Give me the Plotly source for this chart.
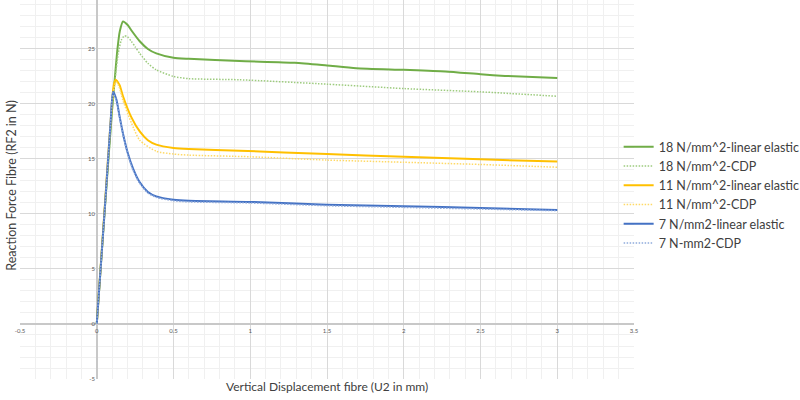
import plotly.graph_objects as go

# Tick labels
x_ticks = [-0.5, 0, 0.5, 1, 1.5, 2, 2.5, 3, 3.5]
x_tick_text = ["-0.5", "0", "0.5", "1", "1.5", "2", "2.5", "3", "3.5"]
y_ticks = [-5, 0, 5, 10, 15, 20, 25]
y_tick_text = ["-5", "0", "5", "10", "15", "20", "25"]

# 18 N/mm^2 - linear elastic
x_18_le = [0, 0.05, 0.10, 0.117, 0.135, 0.15, 0.171, 0.20, 0.225, 0.28, 0.333, 0.388, 0.5, 0.6, 0.93, 1.29, 1.5, 1.69, 2.0, 2.27, 2.5, 2.66, 3.0]
y_18_le = [0, 10.0, 19.5, 22.2, 25.0, 26.6, 27.5, 27.2, 26.7, 25.7, 25.0, 24.6, 24.2, 24.1, 23.9, 23.75, 23.5, 23.25, 23.1, 22.95, 22.7, 22.55, 22.35]

# 18 N/mm^2 - CDP
x_18_cdp = [0, 0.05, 0.10, 0.12, 0.14, 0.16, 0.18, 0.20, 0.225, 0.25, 0.28, 0.333, 0.388, 0.5, 0.6, 0.93, 1.5, 2.0, 2.5, 3.0]
y_18_cdp = [0, 9.8, 19.3, 22.3, 24.6, 25.8, 26.2, 26.1, 25.7, 25.2, 24.6, 23.7, 23.1, 22.5, 22.3, 22.2, 21.8, 21.4, 21.1, 20.7]

# 11 N/mm^2 - linear elastic
x_11_le = [0, 0.05, 0.10, 0.112, 0.123, 0.149, 0.171, 0.225, 0.28, 0.333, 0.388, 0.5, 0.6, 0.93, 1.5, 2.0, 2.5, 3.0]
y_11_le = [0, 10.2, 20.3, 21.8, 22.2, 21.7, 20.7, 18.8, 17.5, 16.7, 16.3, 16.0, 15.9, 15.75, 15.45, 15.2, 14.97, 14.76]

# 11 N/mm^2 - CDP
x_11_cdp = [0, 0.05, 0.10, 0.115, 0.128, 0.145, 0.171, 0.225, 0.28, 0.388, 0.5, 0.6, 1.0, 1.5, 2.0, 2.5, 3.0]
y_11_cdp = [0, 10.1, 20.1, 21.6, 22.0, 21.6, 20.3, 18.3, 16.7, 15.7, 15.45, 15.35, 15.2, 14.9, 14.7, 14.5, 14.25]

# 7 N/mm2 - linear elastic
x_7_le = [0, 0.05, 0.09, 0.106, 0.128, 0.149, 0.171, 0.203, 0.236, 0.279, 0.333, 0.388, 0.5, 0.6, 1.0, 1.5, 2.0, 2.5, 3.0]
y_7_le = [0, 10.0, 18.3, 21.1, 20.4, 18.85, 17.3, 15.5, 14.15, 12.9, 12.0, 11.6, 11.3, 11.2, 11.1, 10.85, 10.7, 10.55, 10.36]

# 7 N-mm2 - CDP
x_7_cdp = [0, 0.05, 0.09, 0.105, 0.128, 0.149, 0.171, 0.203, 0.236, 0.279, 0.333, 0.388, 0.5, 0.6, 1.0, 1.5, 2.0, 2.5, 3.0]
y_7_cdp = [0, 10.0, 18.3, 21.0, 20.3, 18.8, 17.2, 15.4, 14.0, 12.8, 11.9, 11.5, 11.2, 11.1, 11.0, 10.75, 10.6, 10.45, 10.3]

dots = "1.5px,1.5px"
series = [
    ("18 N/mm^2-linear elastic", x_18_le, y_18_le, "#70AD47", "solid", 2),
    ("18 N/mm^2-CDP", x_18_cdp, y_18_cdp, "#9DCB7E", dots, 1.5),
    ("11 N/mm^2-linear elastic", x_11_le, y_11_le, "#FFC000", "solid", 2),
    ("11 N/mm^2-CDP", x_11_cdp, y_11_cdp, "#FFD966", dots, 1.5),
    ("7 N/mm2-linear elastic", x_7_le, y_7_le, "#4472C4", "solid", 2),
    ("7 N-mm2-CDP", x_7_cdp, y_7_cdp, "#8FAADC", dots, 1.5),
]

fig = go.Figure()
for name, xs, ys, color, dash, width in series:
    fig.add_trace(go.Scatter(
        x=xs, y=ys, mode="lines", name=name,
        line=dict(color=color, dash=dash, width=width, shape="spline", smoothing=0.6),
    ))

tick_font = dict(family="Lato", size=6, color="#595959")

fig.update_layout(
    width=800, height=400,
    margin=dict(l=20, r=166, t=0, b=21, autoexpand=False),
    paper_bgcolor="white", plot_bgcolor="white",
    font=dict(family="Lato", color="#595959"),
    legend=dict(
        x=0.975, y=0.485, xanchor="left", yanchor="middle",
        bgcolor="rgba(0,0,0,0)",
        font=dict(family="Lato", size=12.5, color="#404040"),
        itemwidth=30, tracegroupgap=0,
    ),
    xaxis=dict(
        range=[-0.5, 3.5], tickvals=x_ticks, ticktext=x_tick_text,
        anchor="free", position=(379 - 324) / 379,
        showgrid=True, gridcolor="#d9d9d9", gridwidth=1,
        minor=dict(dtick=0.1, showgrid=True, gridcolor="#f0f0f0"),
        zeroline=True, zerolinecolor="#c8c8c8", zerolinewidth=1.5,
        showline=False, ticks="", tickfont=tick_font, ticklabelstandoff=2,
    ),
    yaxis=dict(
        range=[-5, 29.45], tickvals=y_ticks, ticktext=y_tick_text,
        anchor="free", position=77 / 614,
        showgrid=True, gridcolor="#d9d9d9", gridwidth=1,
        minor=dict(dtick=1, showgrid=True, gridcolor="#f0f0f0"),
        zeroline=True, zerolinecolor="#c8c8c8", zerolinewidth=1.5,
        showline=False, ticks="", tickfont=tick_font, ticklabelstandoff=2,
    ),
    annotations=[
        dict(text="Vertical Displacement fibre (U2 in mm)", xref="paper", yref="paper",
             x=0.5, y=-0.021, xanchor="center", yanchor="middle", showarrow=False,
             font=dict(family="Lato", size=12, color="#404040")),
        dict(text="Reaction Force Fibre (RF2 in N)", xref="paper", yref="paper",
             x=-0.013, y=0.51, xanchor="center", yanchor="middle", textangle=-90,
             showarrow=False, font=dict(family="Lato", size=12.5, color="#404040")),
    ],
)

# the page's default body margin would shift the 800x400 figure by 8px
fig.write_html("out.html", config={"displayModeBar": False},
               post_script="document.body.style.margin = '0';")
